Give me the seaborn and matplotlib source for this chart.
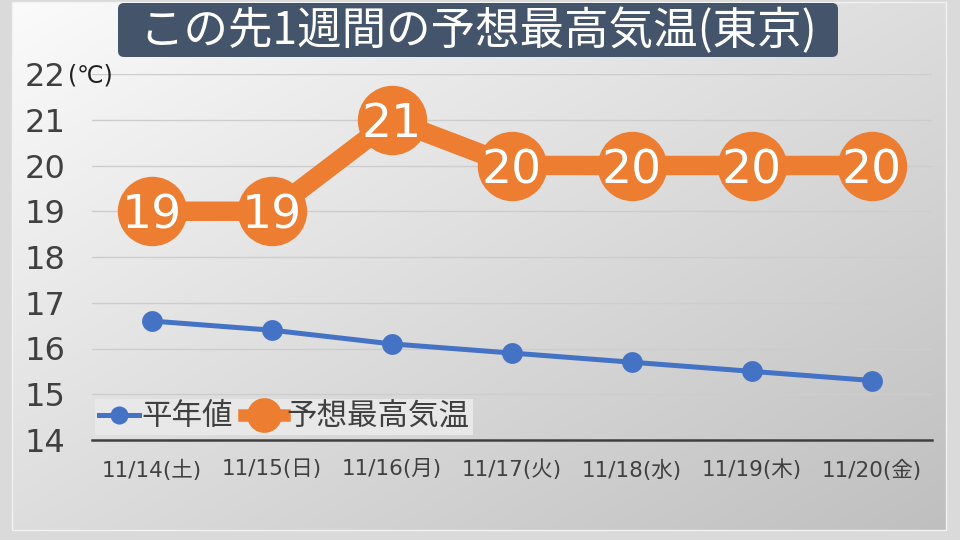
import numpy as np
import pandas as pd
import matplotlib
matplotlib.use("Agg")
import matplotlib.pyplot as plt
import seaborn as sns
from matplotlib.patches import FancyBboxPatch, Rectangle

# ---- data ----
dates = ["11/14(土)", "11/15(日)", "11/16(月)", "11/17(火)", "11/18(水)", "11/19(木)", "11/20(金)"]
normal_temps = [16.6, 16.4, 16.1, 15.9, 15.7, 15.5, 15.3]
forecast_temps = [19, 19, 21, 20, 20, 20, 20]
y_ticks = [14, 15, 16, 17, 18, 19, 20, 21, 22]
series_names = ["平年値", "予想最高気温"]
title = "この先1週間の予想最高気温(東京)"
unit = "(℃)"

BLUE = "#4472c4"
ORANGE = "#ed7d31"
TXT = "#404040"

plt.rcParams['font.family'] = ['DejaVu Sans', 'Noto Sans CJK JP']

fig = plt.figure(figsize=(9.6, 5.4), dpi=100)
W, H = 960, 540

# ---- background ----
bg = fig.add_axes([0, 0, 1, 1])
bg.axis('off')
bg.add_patch(Rectangle((0, 0), W, H, fc="#dadada", ec="none", zorder=0))
ph, pw = 528, 934
yy, xx = np.mgrid[0:ph, 0:pw]
grad = (251 - 30 * (xx / pw) - 30 * (yy / ph)) / 255.0
img = np.dstack([grad, grad, grad])
bg.imshow(img, extent=(12, 12 + pw, 2 + ph, 2), aspect='auto', zorder=1, interpolation='bilinear')
bg.add_patch(Rectangle((12, 2), pw, ph, fc="none", ec="#f2f2f2", lw=1, zorder=2))
bg.set_xlim(0, W)
bg.set_ylim(H, 0)

# title box
bg.add_patch(FancyBboxPatch((118, 3), 720, 54, boxstyle="round,pad=0,rounding_size=6",
                            fc="#44546a", ec="none", zorder=3))
bg.text(478, 31, title, color="white", fontsize=32, ha="center", va="center",
        family=["Noto Sans CJK JP"], zorder=4)

# ---- main axes ----
ax = fig.add_axes([92 / W, 100 / H, 840 / W, 366 / H])
ax.patch.set_alpha(0)

normal_df = pd.DataFrame({"date": dates, "temp": normal_temps})
forecast_df = pd.DataFrame({"date": dates, "temp": forecast_temps})

sns.lineplot(data=normal_df, x="date", y="temp", ax=ax, color=BLUE, lw=3.6,
             marker="o", ms=15, mec=BLUE, mew=0, label=series_names[0], sort=False, zorder=3)
sns.lineplot(data=forecast_df, x="date", y="temp", ax=ax, color=ORANGE, lw=14,
             marker="o", ms=50, mec=ORANGE, mew=0, label=series_names[1], sort=False, zorder=4)

for i, v in enumerate(forecast_temps):
    ax.text(i, v, str(v), color="white", fontsize=34, ha="center", va="center_baseline",
            zorder=6, family=["DejaVu Sans"])

ax.set_xlim(-0.5, len(dates) - 0.5)
ax.set_ylim(14, 22)
ax.set_yticks(y_ticks)
ax.set_xlabel("")
ax.set_ylabel("")
ax.yaxis.grid(True, color="#cdcdcd", lw=1)
ax.xaxis.grid(False)
ax.set_axisbelow(True)
for s in ["left", "right", "top"]:
    ax.spines[s].set_visible(False)
ax.spines["bottom"].set_color(TXT)
ax.spines["bottom"].set_linewidth(1.8)
ax.tick_params(axis="y", length=0, pad=19, labelsize=23, labelcolor=TXT)
ax.tick_params(axis="x", length=0, pad=14, labelsize=15.5, labelcolor=TXT)

fig.text(68 / W, 1 - 76 / H, unit, fontsize=17, va="center", ha="left", color="#202020")

leg = ax.legend(loc="lower left", bbox_to_anchor=(0.004, 0.014), borderaxespad=0, ncol=2,
                frameon=True, facecolor="#e8e8e8", edgecolor="none", framealpha=1,
                fancybox=False, fontsize=22, handlelength=1.3, handletextpad=0.1,
                columnspacing=0.35, borderpad=0.12, labelcolor=TXT)
for ln in leg.get_lines():
    if ln.get_color() == ORANGE:
        ln.set_markersize(25)
        ln.set_linewidth(9)
    else:
        ln.set_markersize(13)

fig.savefig("out.png", dpi=100)
